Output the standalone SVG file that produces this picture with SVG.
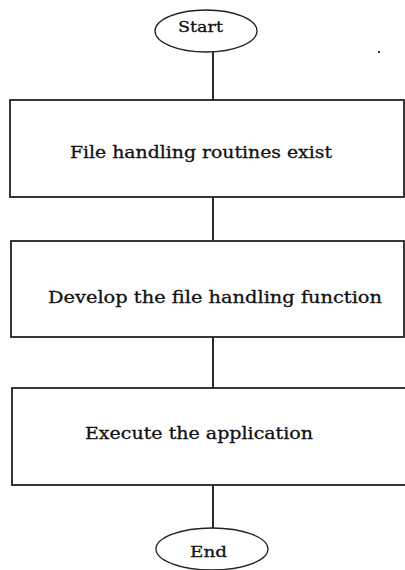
<svg xmlns="http://www.w3.org/2000/svg" width="405" height="570" viewBox="0 0 405 570">
  <style>
    .term { fill: #fff; stroke: #222; stroke-width: 1.3; }
    .box { fill: #fff; stroke: #222; stroke-width: 1.8; }
    .lbl { font-family: "DejaVu Serif", "Liberation Serif", serif; font-size: 16px; fill: #111; stroke: #111; stroke-width: 0.3; }
    .tlbl { font-family: "DejaVu Serif", "Liberation Serif", serif; font-size: 15px; fill: #111; stroke: #111; stroke-width: 0.3; }
    .conn { stroke: #111; stroke-width: 1.8; fill: none; }
  </style>
  <rect width="405" height="570" fill="#fff"/>

  <!-- connectors -->
  <g id="connectors">
    <line class="conn" x1="213" y1="52" x2="213" y2="100"/>
    <line class="conn" x1="213" y1="197" x2="213" y2="241"/>
    <line class="conn" x1="213" y1="337" x2="213" y2="388"/>
    <line class="conn" x1="213" y1="485" x2="213" y2="528"/>
  </g>

  <g id="start">
    <ellipse class="term" cx="206" cy="31" rx="51" ry="21"/>
    <text class="tlbl" x="178" y="32" textLength="45" lengthAdjust="spacingAndGlyphs">Start</text>
  </g>

  <g id="step1">
    <rect class="box" x="10" y="100" width="394" height="97"/>
    <text class="lbl" x="70" y="158" textLength="262" lengthAdjust="spacingAndGlyphs">File handling routines exist</text>
  </g>

  <g id="step2">
    <rect class="box" x="11" y="241" width="393" height="96"/>
    <text class="lbl" x="48" y="303" textLength="334" lengthAdjust="spacingAndGlyphs">Develop the file handling function</text>
  </g>

  <g id="step3">
    <rect class="box" x="12" y="388" width="400" height="97"/>
    <text class="lbl" x="85" y="439" textLength="228" lengthAdjust="spacingAndGlyphs">Execute the application</text>
  </g>

  <g id="end">
    <ellipse class="term" cx="212" cy="549" rx="56" ry="21"/>
    <text class="tlbl" x="190" y="557" textLength="37" lengthAdjust="spacingAndGlyphs">End</text>
  </g>

  <rect x="378" y="51" width="2" height="2" fill="#333"/>
</svg>
